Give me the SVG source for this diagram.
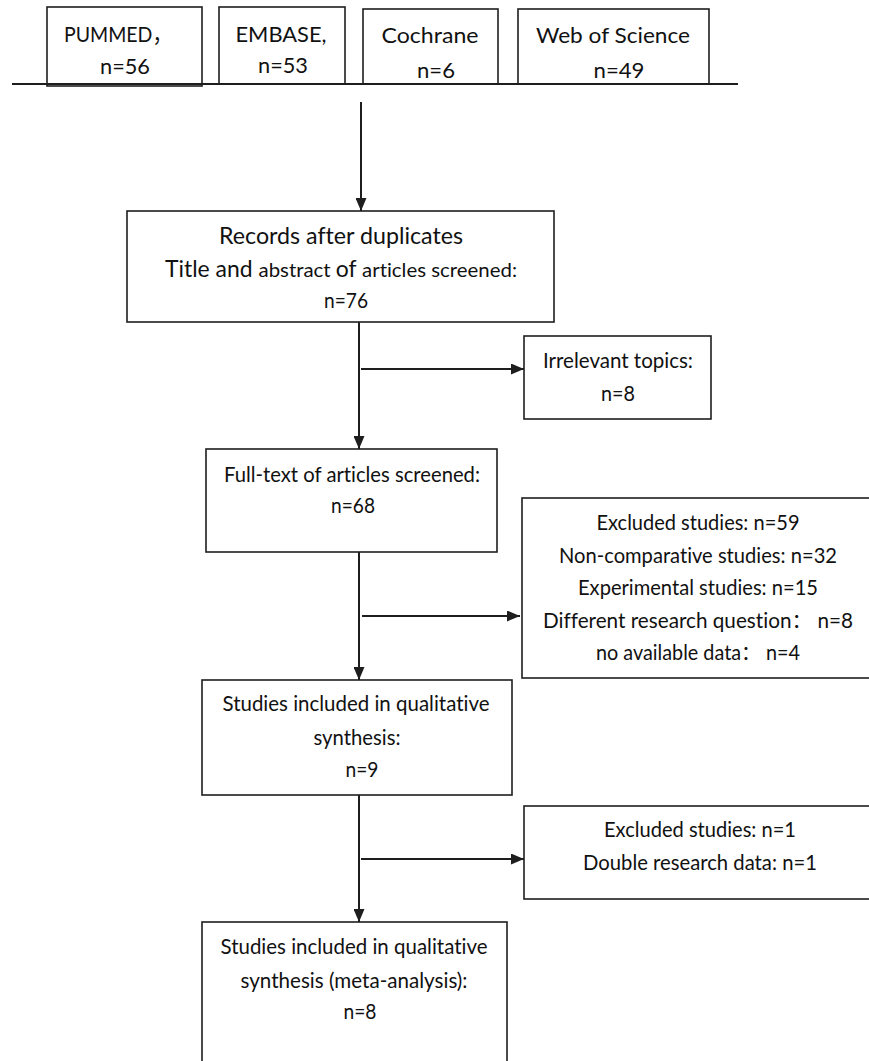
<svg xmlns="http://www.w3.org/2000/svg" width="869" height="1061" viewBox="0 0 869 1061">
<style>
  .box { fill: #ffffff; stroke: #1e1e1e; stroke-width: 1.6; }
  .ln { fill: none; stroke: #1e1e1e; stroke-width: 2; }
  text { font-family: Lato, "Noto Sans CJK SC", sans-serif; fill: #111111; text-anchor: middle; font-variant-ligatures: none; }
  .t { font-size: 20.5px; }
  .s { font-size: 21.5px; }
  .l { font-size: 23px; }
</style>
<defs>
  <marker id="ah" markerUnits="userSpaceOnUse" markerWidth="13" markerHeight="11" refX="13" refY="5.5" orient="auto">
    <path d="M0,0 L13,5.5 L0,11 z" fill="#1e1e1e"/>
  </marker>
</defs>
<rect width="869" height="1061" fill="#ffffff"/>

<g id="source-pubmed">
  <rect class="box" x="47" y="7" width="155" height="79"/>
  <text class="s" x="64" y="42" style="text-anchor:start" textLength="108" lengthAdjust="spacingAndGlyphs">PUMMED，</text>
  <text class="s" x="125" y="74" textLength="50" lengthAdjust="spacingAndGlyphs">n=56</text>
</g>
<g id="source-embase">
  <rect class="box" x="219" y="7" width="126" height="77"/>
  <text class="s" x="281" y="42" textLength="91" lengthAdjust="spacingAndGlyphs">EMBASE,</text>
  <text class="s" x="283" y="73" textLength="50" lengthAdjust="spacingAndGlyphs">n=53</text>
</g>
<g id="source-cochrane">
  <rect class="box" x="363" y="9" width="135" height="75"/>
  <text class="s" x="430" y="43" textLength="97" lengthAdjust="spacingAndGlyphs">Cochrane</text>
  <text class="s" x="436" y="78" textLength="38" lengthAdjust="spacingAndGlyphs">n=6</text>
</g>
<g id="source-wos">
  <rect class="box" x="518" y="9" width="191" height="75"/>
  <text class="s" x="613" y="43" textLength="154" lengthAdjust="spacingAndGlyphs">Web of Science</text>
  <text class="s" x="619" y="78" textLength="51" lengthAdjust="spacingAndGlyphs">n=49</text>
</g>
<g id="source-baseline">
  <line class="ln" x1="12" y1="84" x2="738" y2="84" style="stroke-width:1.8"/>
</g>

<g id="records">
  <rect class="box" x="127" y="211" width="427" height="111"/>
  <text class="l" x="341" y="244" textLength="244" lengthAdjust="spacingAndGlyphs">Records after duplicates</text>
  <text x="341" y="277" textLength="352" lengthAdjust="spacingAndGlyphs"><tspan style="font-size:22.5px">Title and </tspan><tspan style="font-size:20px">abstract </tspan><tspan style="font-size:22.5px">of </tspan><tspan style="font-size:20px">articles screened:</tspan></text>
  <text class="t" x="346" y="308" textLength="44" lengthAdjust="spacingAndGlyphs">n=76</text>
</g>

<g id="irrelevant">
  <rect class="box" x="524" y="336" width="187" height="83"/>
  <text class="t" x="618" y="368" textLength="150" lengthAdjust="spacingAndGlyphs">Irrelevant topics:</text>
  <text class="t" x="618" y="401" textLength="34" lengthAdjust="spacingAndGlyphs">n=8</text>
</g>

<g id="fulltext">
  <rect class="box" x="206" y="449" width="291" height="103"/>
  <text class="t" x="352" y="482" textLength="256" lengthAdjust="spacingAndGlyphs">Full-text of articles screened:</text>
  <text class="t" x="353" y="513" textLength="44" lengthAdjust="spacingAndGlyphs">n=68</text>
</g>

<g id="excluded-59">
  <rect class="box" x="522" y="498" width="360" height="180"/>
  <text class="t" x="698" y="530" textLength="203" lengthAdjust="spacingAndGlyphs">Excluded studies: n=59</text>
  <text class="t" x="698" y="563" textLength="278" lengthAdjust="spacingAndGlyphs">Non-comparative studies: n=32</text>
  <text class="t" x="698" y="595" textLength="240" lengthAdjust="spacingAndGlyphs">Experimental studies: n=15</text>
  <text class="t" x="698" y="628" textLength="310" lengthAdjust="spacingAndGlyphs">Different research question：   n=8</text>
  <text class="t" x="698" y="660" textLength="204" lengthAdjust="spacingAndGlyphs">no available data：  n=4</text>
</g>

<g id="qualitative">
  <rect class="box" x="202" y="680" width="310" height="115"/>
  <text class="t" x="356" y="711" textLength="267" lengthAdjust="spacingAndGlyphs">Studies included in qualitative</text>
  <text class="t" x="357" y="745" textLength="87" lengthAdjust="spacingAndGlyphs">synthesis:</text>
  <text class="t" x="362" y="777" textLength="33" lengthAdjust="spacingAndGlyphs">n=9</text>
</g>

<g id="excluded-1">
  <rect class="box" x="524" y="806" width="360" height="93"/>
  <text class="t" x="700" y="837" textLength="192" lengthAdjust="spacingAndGlyphs">Excluded studies: n=1</text>
  <text class="t" x="700" y="870" textLength="234" lengthAdjust="spacingAndGlyphs">Double research data: n=1</text>
</g>

<g id="meta-analysis">
  <rect class="box" x="202" y="922" width="305" height="145"/>
  <text class="t" x="354" y="954" textLength="267" lengthAdjust="spacingAndGlyphs">Studies included in qualitative</text>
  <text class="t" x="354" y="988" textLength="227" lengthAdjust="spacingAndGlyphs">synthesis (meta-analysis):</text>
  <text class="t" x="360" y="1019" textLength="33" lengthAdjust="spacingAndGlyphs">n=8</text>
</g>

<g id="connectors">
  <line class="ln" x1="361" y1="102" x2="361" y2="211" marker-end="url(#ah)"/>
  <line class="ln" x1="359" y1="322" x2="359" y2="449" marker-end="url(#ah)"/>
  <line class="ln" x1="361" y1="369" x2="524" y2="369" marker-end="url(#ah)"/>
  <line class="ln" x1="359" y1="552" x2="359" y2="680" marker-end="url(#ah)"/>
  <line class="ln" x1="362" y1="616" x2="520" y2="616" marker-end="url(#ah)"/>
  <line class="ln" x1="359" y1="795" x2="359" y2="922" marker-end="url(#ah)"/>
  <line class="ln" x1="361" y1="859" x2="524" y2="859" marker-end="url(#ah)"/>
</g>
</svg>
